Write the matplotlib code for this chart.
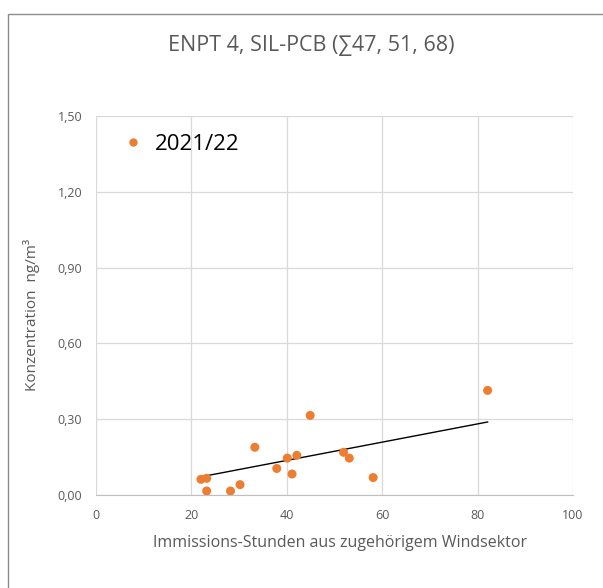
import numpy as np
import matplotlib.pyplot as plt
from matplotlib.patches import Rectangle
from matplotlib.lines import Line2D

# hours from the matching wind sector vs. concentration
hours = [22.0, 23.2, 23.2, 28.2, 30.2, 33.3, 37.9, 40.1, 41.1, 42.1, 44.9, 51.9, 53.1, 58.1, 82.1]
conc = [0.062, 0.066, 0.016, 0.016, 0.041, 0.189, 0.105, 0.146, 0.083, 0.157, 0.315, 0.169, 0.146, 0.069, 0.414]
# trend line as drawn in the original (end points)
trend_x = [22.0, 82.1]
trend_y = [0.072, 0.289]
series_label = "2021/22"
title = "ENPT 4, SIL-PCB (\u221147, 51, 68)"
x_ticks = [0, 20, 40, 60, 80, 100]
y_ticks = [0.0, 0.3, 0.6, 0.9, 1.2, 1.5]
y_tick_labels = ["0,00", "0,30", "0,60", "0,90", "1,20", "1,50"]

plt.rcParams['font.family'] = ['Open Sans', 'DejaVu Sans']

W, H = 603, 588
fig = plt.figure(figsize=(W / 100, H / 100), dpi=100)

# outer chart frame
fig.patches.append(Rectangle((8 / W, -0.1), 1.0, (H - 14) / H + 0.1, transform=fig.transFigure,
                             fill=False, edgecolor='#8c8c8c', linewidth=1.0))

# plot area in pixels: left 96, right 573, top 116, bottom 495
ax = fig.add_axes([96 / W, 1 - 495 / H, (573 - 96) / W, (495 - 116) / H])

orange = '#ed7d31'
ax.scatter(hours, conc, s=42, color=orange, zorder=3, edgecolors='none')
ax.plot(trend_x, trend_y, color='black', linewidth=1.0, zorder=2)

ax.set_xlim(0, 100)
ax.set_ylim(0, 1.5)
ax.set_xticks(x_ticks)
ax.set_yticks(y_ticks)
ax.set_yticklabels(y_tick_labels)
ax.tick_params(length=0, labelsize=9, colors='#595959')
ax.tick_params(axis='x', pad=10)
ax.tick_params(axis='y', pad=10)
ax.grid(True, color='#d9d9d9', linewidth=0.9)
ax.set_axisbelow(True)
for s in ['top', 'right', 'left']:
    ax.spines[s].set_visible(False)
ax.spines['bottom'].set_color('#bfbfbf')

ax.set_xlabel("Immissions-Stunden aus zugehörigem Windsektor", fontsize=11.5, color='#595959')
ax.xaxis.set_label_coords((340 - 96) / 477, (495 - 535) / 379)
ax.set_ylabel("Konzentration  ng/m³", fontsize=11, color='#595959')
ax.yaxis.set_label_coords((40 - 96) / 477, (495 - 315) / 379)

fig.text(311 / W, 1 - 45 / H, title, ha='center', va='center', fontsize=15.5, color='#595959')

handle = Line2D([], [], linestyle='none', marker='o', markersize=6, color=orange, markeredgewidth=0)
ax.legend([handle], [series_label], loc='center left',
          bbox_to_anchor=((122 - 96) / 477, (495 - 144) / 379), frameon=False, fontsize=16,
          handlelength=1.0, handletextpad=0.5, borderaxespad=0, borderpad=0)

fig.savefig("out.png", dpi=100)
